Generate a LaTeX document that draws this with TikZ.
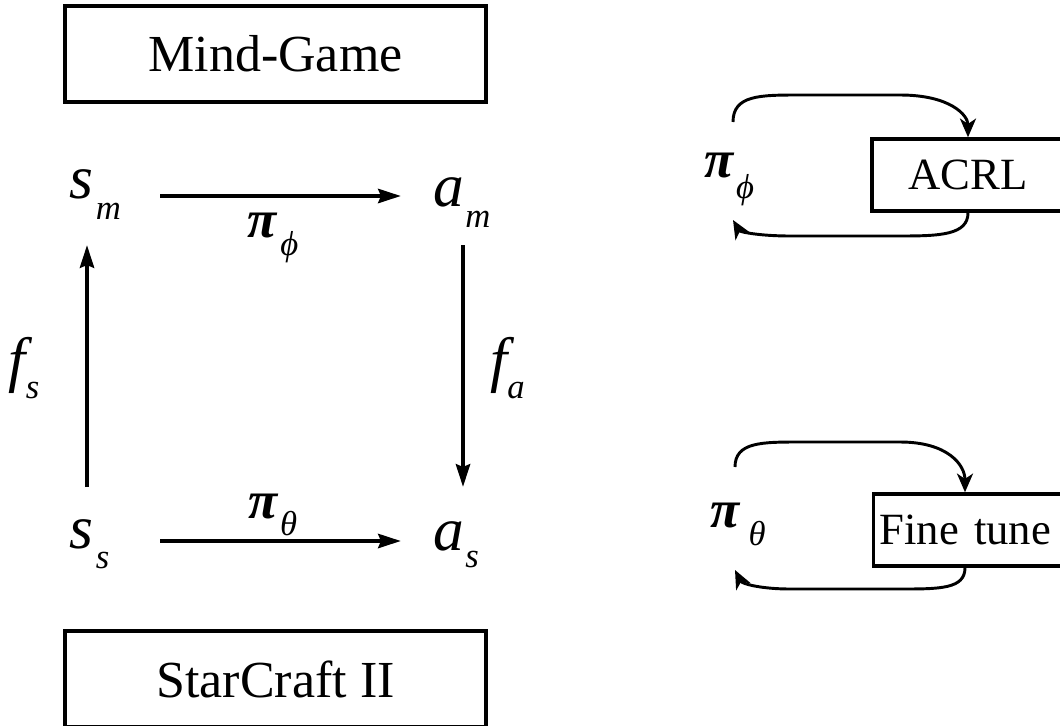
\documentclass[tikz,border=0pt]{standalone}
\usepackage{fontspec}
\setmainfont{Liberation Serif}
\usetikzlibrary{arrows.meta}
\newcommand\mainsz{\fontsize{46}{46}\selectfont\itshape}
\newcommand\subsz{\fontsize{26}{26}\selectfont\itshape}
\newcommand\pisz{\fontsize{40}{40}\selectfont\bfseries\itshape}
\newcommand\varlab[4]{{\mainsz #1}\kern#3\raisebox{#4}{\subsz #2}}
\newcommand\pilab[3]{{\pisz π}\kern#2\raisebox{#3}{\subsz #1}}
\begin{document}
\begin{tikzpicture}[x=0.75pt,y=-0.75pt,
  lab/.style={inner sep=0pt,anchor=base west},
  bigbox/.style={draw,line width=2.8pt,minimum width=315.75pt,minimum height=72pt,inner sep=0pt,font=\fontsize{39}{39}\selectfont},
  smallbox/.style={draw,line width=2.6pt,minimum height=54pt,inner sep=0pt,font=\fontsize{33.5}{33.5}\selectfont},
  sarr/.style={line width=3.2pt,-{Stealth[length=17pt,width=10.5pt,inset=2pt]}},
  carr/.style={line width=2.2pt,-{Stealth[length=14pt,width=12pt,inset=4pt]}}]
\useasboundingbox (0,0) rectangle (1060,725);
\clip (0,0) rectangle (1060,725);
% boxes
\node[bigbox] (mind) at (275.5,54) {Mind-Game};
\node[bigbox] (sc2) at (275.5,679) {StarCraft II};
\node[smallbox,minimum width=144pt] (acrl) at (968,175) {ACRL};
\node[smallbox,anchor=west,text width=150pt,align=left,inner xsep=4.5pt] (ft) at (872,530) {Fine tune};
% labels of the square
\node[lab] (sm) at (69,198) {\varlab{s}{m}{2pt}{-16pt}};
\node[lab] (am) at (433,206) {\varlab{a}{m}{1pt}{-16pt}};
\node[lab] (ss) at (69,548) {\varlab{s}{s}{2pt}{-15pt}};
\node[lab] (as) at (433,550) {\varlab{a}{s}{1pt}{-13pt}};
\node[lab] (fs) at (8,380) {\varlab{f}{s}{0.5pt}{-14pt}};
\node[lab] (fa) at (490,380) {\varlab{f}{a}{0pt}{-14pt}};
\node[lab] (pphi) at (247,237) {\pilab{ϕ}{3pt}{-14pt}};
\node[lab] (ptheta) at (248,518) {\pilab{θ}{2pt}{-13pt}};
% square arrows
\coordinate (t1) at (160,196); \coordinate (t2) at (401,196);
\coordinate (b1) at (160,541); \coordinate (b2) at (401,541);
\coordinate (l1) at (87,487);  \coordinate (l2) at (87,245);
\coordinate (r1) at (463,245); \coordinate (r2) at (463,487);
\draw[sarr] (t1) -- (t2);
\draw[sarr] (b1) -- (b2);
\draw[sarr] (l1) -- (l2);
\draw[sarr] (r1) -- (r2);
% right side labels
\node[lab] (rphi) at (704,177) {\pilab{ϕ}{2pt}{-16pt}};
\node[lab] (rtheta) at (710,527) {\pilab{θ}{7pt}{-14pt}};
% loops
\coordinate (a1) at (733,122);
\coordinate (a2) at (733,220);
\draw[carr] (a1) .. controls (733,95) and (760,95) .. (800,95) -- (900,95)
  .. controls (950,95) and (968,115) .. (acrl.north);
\draw[carr] (acrl.south) .. controls (968,235) and (940,236) .. (900,236) -- (790,236)
  .. controls (760,236) and (740,232) .. (a2);
\coordinate (c1) at (735,467);
\coordinate (c2) at (735,570);
\draw[carr] (c1) .. controls (735,442) and (762,442) .. (800,442) -- (900,442)
  .. controls (948,442) and (965,465) .. ([xshift=69.75pt]ft.north west);
\draw[carr] ([xshift=69.75pt]ft.south west) .. controls (965,589) and (940,589) .. (900,589) -- (790,589)
  .. controls (762,589) and (742,584) .. (c2);
\end{tikzpicture}
\end{document}
